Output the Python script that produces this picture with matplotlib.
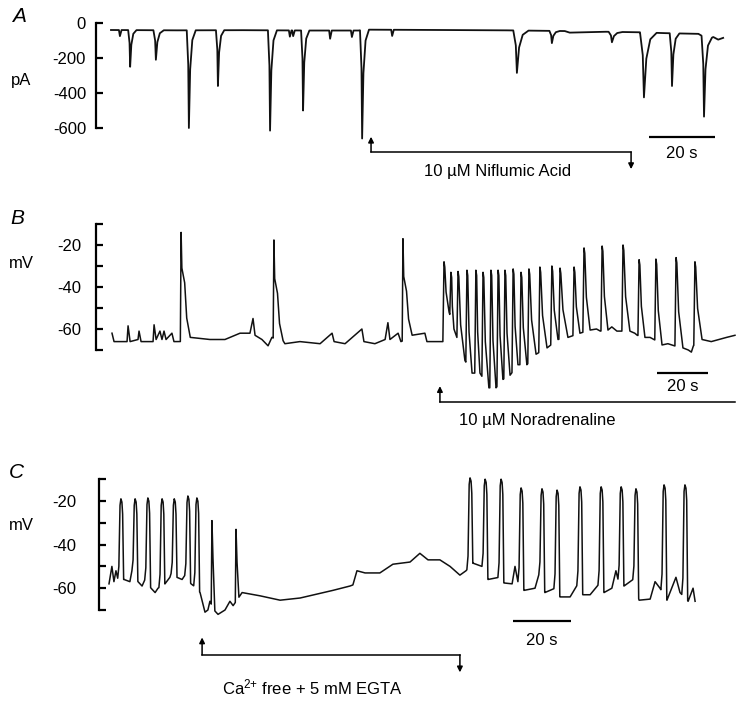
import numpy as np
import matplotlib
matplotlib.use("Agg")
import matplotlib.pyplot as plt

plt.rcParams['font.family'] = ['Liberation Sans', 'DejaVu Sans']
plt.rcParams['mathtext.default'] = 'regular'

W, H, DPI = 742, 702, 100

# ---------------- Panel A data (time s, current pA) ----------------
a_base_t = [0, 20, 40, 60, 75, 76.8, 100, 120, 137.5, 139.0, 150, 160, 168, 178, 181.0, 182.5, 184, 185.5]
a_base_v = [-40, -42, -41, -43, -43, -38, -40, -42, -46, -55, -50, -53, -58, -62, -95, -80, -95, -85]
a_evt_t = [5.8, 13.6, 23.6, 32.4, 48.2, 58.2, 76.1, 123.0, 133.6, 151.8, 161.5, 170.0, 179.7]
a_evt_peak = [-250, -210, -600, -360, -615, -500, -660, -285, -115, -110, -425, -360, -535]
a_evt_width = [1.2, 1.5, 1.3, 1.2, 1.3, 1.2, 1.3, 2.2, 1.5, 2.0, 2.4, 1.4, 1.5]
a_small_t = [2.7, 54.2, 55.2, 66.4, 73.0, 85.2]
a_small_peak = [-75, -78, -75, -90, -80, -74]
a_ticks = [0, -200, -400, -600]
a_ticklabels = ['0', '-200', '-400', '-600']

# ---------------- Panel B data (time s, potential mV) ----------------
b_base_t = [0.0, 0.8, 5.9, 6.3, 7.1, 10.2, 10.6, 11.4, 16.1, 16.5, 17.3, 18.8, 19.6, 20.4, 21.2,
            23.5, 24.3, 26.7, 30.6, 34.5, 38.4, 44.3, 50.2, 54.1, 55.3, 56.1, 58.8, 61.2, 62.7,
            67.8, 73.7, 81.6, 86.3, 87.1, 91.4, 98.0, 98.8, 103.1, 107.1, 108.2, 109.0, 112.2,
            113.3, 117.6, 122.7, 123.5, 128.6, 129.8,
            190.0, 191.5, 196.0, 198.0, 199.6, 205.0, 206.0, 211.0, 212.6, 218.0, 220.5,
            226.0, 227.2, 228.0, 235.0, 238.0, 241.0, 244.3]
b_base_v = [-62, -66, -66, -58.5, -66, -65, -61, -66, -66, -58, -65, -61, -65, -61, -65,
            -62, -66, -66, -65, -64.5, -65, -65, -62, -62, -55, -63, -65, -68, -64,
            -67, -66, -67, -62, -66, -67, -60, -66, -67, -65, -57, -65, -62,
            -66, -64, -62, -66, -66, -66,
            -60, -61, -59, -61, -61, -62, -63, -64, -65, -67, -68,
            -70, -71, -68, -66, -65, -64, -63]
b_spont_t = [27.1, 63.5, 114.1]
b_spont_peak = [-14, -17.6, -17]
b_spont_shoulder = [-31, -36, -35]
b_train_t = [130.2, 132.9, 135.7, 139.2, 142.7, 145.5, 148.6, 151.4, 154.1, 157.3, 160.4, 163.5,
             167.8, 172.5, 175.7, 181.2, 185.1, 192.2, 200.4, 206.7, 213.3, 221.2, 228.6]
b_train_peak = [-28, -33, -32.6, -32, -32, -33, -32, -32, -32, -31.4, -33, -31.4,
                -30.5, -30, -31, -30.5, -21.4, -20.5, -20, -27, -26.7, -26, -28]
b_trough_t = [132.2, 134.1, 138.4, 141.2, 144.3, 147.8, 150.6, 153.3, 156.1, 159.2, 162.7, 166.3,
              170.6, 174.9, 178.8, 183.5, 187.5, 194.5, 203.1, 209.0, 215.7, 223.9, 231.4]
b_trough_v = [-52, -60, -75, -81, -81, -88, -88, -84, -82, -77, -77, -72,
              -69, -65, -64, -62, -60.5, -60.5, -61, -64, -67.6, -69, -65]
b_major_ticks = [-20, -40, -60]
b_minor_ticks = [-10, -30, -50, -70]

# ---------------- Panel C data (time s, potential mV) ----------------
c_base_t = [0.0, 1.0, 1.7, 2.4, 3.1, 5.2, 7.2, 7.9, 10.0, 11.4, 12.4, 14.5, 15.9, 16.9, 19.3,
            21.0, 21.7, 23.4, 25.2, 26.2, 28.3, 29.3, 31.4, 33.1, 34.1, 34.8, 36.2, 37.6, 40.0,
            41.7, 42.8, 45.9, 52.1, 59.0, 65.9, 77.2, 83.1, 84.1, 85.5, 88.3, 93.4, 97.9,
            103.8, 107.2, 110.0, 114.1, 117.6, 121.0, 123.1, 125.5, 128.6, 130.7, 134.5, 136.2,
            139.0, 140.0, 141.0, 143.1, 146.9, 148.6, 150.3, 153.8, 155.5, 159.0, 161.7, 163.4,
            165.9, 169.0, 170.7, 173.4, 174.8, 175.9, 177.6, 180.7, 182.8, 186.6, 188.3, 190.0,
            192.4, 195.5, 196.9, 199.7, 201.4, 202.1]
c_base_v = [-58, -50, -57, -52, -56, -56, -57, -52, -57, -59, -56, -60, -62, -60, -58,
            -55, -52, -55, -56, -54, -58, -59, -62, -71, -70, -66, -70, -72, -70,
            -66, -68, -62, -63.5, -65.5, -64.5, -61, -59, -58.5, -52, -53, -53, -49,
            -48, -44, -47, -47, -50, -54, -52, -48.5, -50, -56, -55, -57.6,
            -58, -50, -57, -61, -60, -52, -62, -60, -64, -64, -58, -63,
            -63, -58, -62, -60, -52, -58, -59, -56, -65.5, -65, -57, -60,
            -65.5, -55, -62, -66, -60, -66]
c_spike_t = [4.1, 9.0, 13.4, 18.3, 22.5, 27.2, 30.3, 124.5, 129.7, 135.2, 142.1, 149.3,
             154.5, 162.4, 169.7, 176.6, 181.7, 191.4, 198.6]
c_spike_peak = [-19, -19, -18.6, -19, -19, -17.7, -18.6, -9.4, -10, -10, -14, -14.4,
                -15, -13.5, -13.5, -13.5, -14.4, -12.6, -12.6]
c_narrow_t = [35.5, 43.8]
c_narrow_peak = [-29, -33]
c_major_ticks = [-20, -40, -60]
c_minor_ticks = [-10, -30, -50, -70]


def at(kt, kv, t):
    return float(np.interp(t, kt, kv))


def assemble(kt, kv, segments):
    kt = np.asarray(kt, float)
    kv = np.asarray(kv, float)
    keep = np.ones(kt.size, bool)
    for seg in segments:
        lo, hi = seg[0][0], seg[-1][0]
        keep &= ~((kt > lo) & (kt < hi))
    pts = list(zip(kt[keep], kv[keep]))
    for seg in segments:
        pts.extend(seg)
    pts.sort(key=lambda p: p[0])
    arr = np.array(pts)
    return arr[:, 0], arr[:, 1]


fig = plt.figure(figsize=(W / DPI, H / DPI), dpi=DPI)
fig.patch.set_facecolor('white')


def panel_axes(x0, sx, yref, vref, sy, bar_px, pad_px):
    ax = fig.add_axes([0, 0, 1, 1])
    ax.set_xlim(-x0 / sx, (W - x0) / sx)
    ax.set_ylim(vref - (H - yref) / sy, vref + yref / sy)
    ax.patch.set_visible(False)
    for s in ['top', 'right', 'bottom']:
        ax.spines[s].set_visible(False)
    ax.xaxis.set_visible(False)
    ax.spines['left'].set_position(('data', (bar_px - x0) / sx))
    ax.spines['left'].set_linewidth(1.6)
    ax.spines['left'].set_capstyle('projecting')
    ax.tick_params(axis='y', which='both', direction='in', length=5, width=1.6,
                   pad=pad_px * 72 / DPI, labelsize=12)
    return ax


LW = 1.1
TXT = 12
ARROW = dict(arrowstyle='-|>', lw=1.1, color='k', mutation_scale=8, shrinkA=0, shrinkB=0)

# ---------------- Panel A ----------------
axA = panel_axes(111, 3.3, 23, 0, 0.175, 96, 10)
axA.spines['left'].set_bounds(-600, 0)
axA.set_yticks(a_ticks)
axA.set_yticklabels(a_ticklabels)
segs = []
for t, p, w in zip(a_evt_t, a_evt_peak, a_evt_width):
    b0 = at(a_base_t, a_base_v, t - 0.5 * w)
    b1 = at(a_base_t, a_base_v, t + 1.6 * w)
    segs.append([(t - 0.5 * w, b0), (t - 0.15 * w, b0 + 0.35 * (p - b0)), (t, p),
                 (t + 0.3 * w, b1 + 0.4 * (p - b1)), (t + 0.8 * w, b1 + 0.1 * (p - b1)),
                 (t + 1.6 * w, b1)])
for t, p in zip(a_small_t, a_small_peak):
    b = at(a_base_t, a_base_v, t)
    segs.append([(t - 0.3, b), (t, p), (t + 0.5, b)])
tx, vy = assemble(a_base_t, a_base_v, segs)
axA.plot(tx, vy, color='#111111', lw=1.3, solid_joinstyle='round')
axA.plot([163.0, 183.0], [-651, -651], color='k', lw=1.6, solid_capstyle='butt')
axA.text(173.0, -743, '20 s', ha='center', va='center', fontsize=TXT)
axA.plot([78.8, 157.6], [-737, -737], color='k', lw=1.1)
axA.annotate('', xy=(78.8, -650), xytext=(78.8, -737), arrowprops=ARROW)
axA.annotate('', xy=(157.6, -835), xytext=(157.6, -737), arrowprops=ARROW)
axA.text(117.0, -851, '10 \u00b5M Niflumic Acid', ha='center', va='center', fontsize=TXT)

# ---------------- Panel B ----------------
axB = panel_axes(112, 2.55, 245, -20, 2.1, 95.5, 14)
axB.spines['left'].set_bounds(-70, -10)
axB.set_yticks(b_major_ticks)
axB.set_yticks(b_minor_ticks, minor=True)
axB.set_yticklabels([str(v) for v in b_major_ticks])
kt = list(b_base_t) + list(b_trough_t)
kv = list(b_base_v) + list(b_trough_v)
order = np.argsort(kt)
kt = list(np.asarray(kt)[order])
kv = list(np.asarray(kv)[order])
segs = []
for t, p, s in zip(b_spont_t, b_spont_peak, b_spont_shoulder):
    b = at(kt, kv, t - 0.3)
    b1 = at(kt, kv, t + 3.6)
    segs.append([(t - 0.3, b), (t, p), (t + 0.3, s), (t + 1.4, s - 7),
                 (t + 2.2, b1 + 0.3 * (s - b1)), (t + 3.6, b1 + 1)])
for t, p, T, vT in zip(b_train_t, b_train_peak, b_trough_t, b_trough_v):
    pre = at(kt, kv, t - 0.45)
    mid_t = t + 0.3 + 0.3 * (T - t - 0.3)
    segs.append([(t - 0.45, pre), (t, p), (t + 0.3, p - 2.5), (mid_t, p + 0.6 * (vT - p))])
tx, vy = assemble(kt, kv, segs)
axB.plot(tx, vy, color='#111111', lw=LW, solid_joinstyle='round')
axB.plot([213.7, 233.7], [-81, -81], color='k', lw=1.6, solid_capstyle='butt')
axB.text(223.7, -87.6, '20 s', ha='center', va='center', fontsize=TXT)
axB.plot([128.6, 244.3], [-94.8, -94.8], color='k', lw=1.1)
axB.annotate('', xy=(128.6, -87.2), xytext=(128.6, -94.8), arrowprops=ARROW)
axB.text(166.7, -103.8, '10 \u00b5M Noradrenaline', ha='center', va='center', fontsize=TXT)

# ---------------- Panel C ----------------
axC = panel_axes(109, 2.9, 501, -20, 2.18, 99, 23)
axC.spines['left'].set_bounds(-70, -10)
axC.set_yticks(c_major_ticks)
axC.set_yticks(c_minor_ticks, minor=True)
axC.set_yticklabels([str(v) for v in c_major_ticks])
segs = []
for t, p in zip(c_spike_t, c_spike_peak):
    b = at(c_base_t, c_base_v, t - 1.1)
    b0 = at(c_base_t, c_base_v, t + 0.95)
    segs.append([(t - 1.1, b), (t - 0.7, b + 0.15 * (p - b)), (t - 0.3, p - 3), (t, p),
                 (t + 0.35, p - 1.5), (t + 0.6, p - 7), (t + 0.95, b0)])
for t, p in zip(c_narrow_t, c_narrow_peak):
    b = at(c_base_t, c_base_v, t - 0.25)
    b1 = at(c_base_t, c_base_v, t + 1.0)
    segs.append([(t - 0.25, b), (t, p), (t + 0.35, b + 0.55 * (p - b)), (t + 1.0, b1)])
tx, vy = assemble(c_base_t, c_base_v, segs)
axC.plot(tx, vy, color='#111111', lw=LW, solid_joinstyle='round')
axC.plot([139.3, 159.3], [-75, -75], color='k', lw=1.6, solid_capstyle='butt')
axC.text(149.3, -84.2, '20 s', ha='center', va='center', fontsize=TXT)
axC.plot([32.1, 121.0], [-90.6, -90.6], color='k', lw=1.1)
axC.annotate('', xy=(32.1, -82.6), xytext=(32.1, -90.6), arrowprops=ARROW)
axC.annotate('', xy=(121.0, -98.6), xytext=(121.0, -90.6), arrowprops=ARROW)
axC.text(70.0, -105.3, r'Ca$^{2{+}}$ free + 5 mM EGTA', ha='center', va='center', fontsize=TXT)

# ---------------- labels ----------------
for (x, y, s) in [(19, 17, 'A'), (17, 218, 'B'), (16, 473, 'C')]:
    fig.text(x / W, 1 - y / H, s, fontsize=15, style='italic', ha='center', va='center')
for (x, y, s) in [(21, 80, 'pA'), (21.5, 264, 'mV'), (21.5, 525, 'mV')]:
    fig.text(x / W, 1 - y / H, s, fontsize=TXT, ha='center', va='center')

fig.savefig('out.png', dpi=DPI, facecolor='white')
